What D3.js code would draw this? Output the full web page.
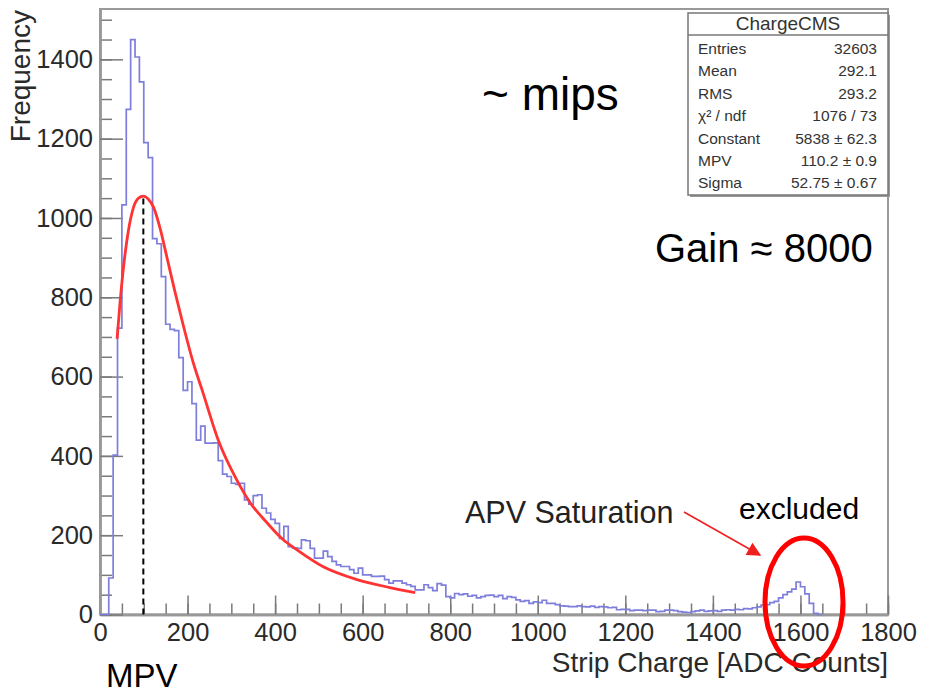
<!DOCTYPE html>
<html>
<head>
<meta charset="utf-8">
<script src="https://cdn.jsdelivr.net/npm/d3@7"></script>
<style>
  body { margin: 0; background: #fff; }
  text { font-family: 'Liberation Sans', Arial, Helvetica, sans-serif; }
</style>
</head>
<body>
<div id="container"></div>
<script>
// histogram: strip charge, 10 ADC counts per bin, starting at 0
var binWidth = 10
var counts = [
  0, 0, 92, 402, 722, 1033, 1274, 1450, 1406, 1343,
  1190, 1152, 948, 935, 852, 732, 719, 716, 648, 565,
  587, 532, 440, 475, 432, 432, 433, 388, 354, 348,
  331, 328, 331, 289, 278, 300, 302, 268, 256, 240,
  230, 192, 222, 171, 168, 167, 188, 186, 167, 142,
  142, 160, 146, 134, 125, 121, 121, 113, 104, 117,
  100, 100, 96, 96, 97, 88, 79, 85, 85, 79,
  75, 71, 62, 62, 75, 68, 60, 78, 74, 45,
  42, 53, 50, 52, 46, 48, 42, 45, 48, 49,
  45, 48, 40, 45, 43, 37, 33, 35, 28, 32,
  30, 36, 28, 28, 25, 22, 21, 20, 20, 22,
  20, 19, 21, 18, 20, 19, 17, 18, 12, 13,
  13, 10, 11, 11, 10, 11, 11, 7, 8, 11,
  11, 10, 7, 6, 5, 7, 9, 11, 8, 9,
  10, 8, 11, 12, 11, 13, 12, 15, 14, 17,
  19, 24, 25, 30, 33, 42, 50, 57, 64, 82,
  70, 52, 28, 3, 0
]

// landau fit curve [charge, frequency]
var fitPoints = [
  [39, 695], [46, 790], [53, 869], [65, 969], [76, 1025], [88, 1050],
  [99, 1055], [110, 1048], [122, 1028], [137, 975], [152, 905], [171, 815],
  [190, 730], [213, 635], [235, 560], [270, 440], [312, 340], [343, 282],
  [381, 232], [418, 189], [450, 163], [509, 121], [587, 88], [662, 68], [720, 55]
]

var mpvX = 99
var mpvY = 1055

var xTicks = [0, 200, 400, 600, 800, 1000, 1200, 1400, 1600, 1800]
var yTicks = [0, 200, 400, 600, 800, 1000, 1200, 1400]

var statTitle = 'ChargeCMS'
var statNames = ['Entries', 'Mean', 'RMS', 'χ² / ndf', 'Constant', 'MPV', 'Sigma']
var statValues = ['32603', '292.1', '293.2', '1076 / 73', '5838 ± 62.3', '110.2 ± 0.9', '52.75 ± 0.67']

var width = 934
var height = 697
var frame = { left: 100, right: 888, top: 9, bottom: 614.5 }

var svg = d3.select('#container').append('svg')
  .attr('width', width)
  .attr('height', height)

var x = d3.scaleLinear().domain([0, 1800]).range([frame.left, frame.right])
var y = d3.scaleLinear().domain([0, 1527]).range([frame.bottom, frame.top])

/* frame */
svg.append('rect')
  .attr('x', frame.left).attr('y', frame.top)
  .attr('width', frame.right - frame.left).attr('height', frame.bottom - frame.top)
  .style('fill', 'none').style('stroke', '#999').style('stroke-width', 2)

/* axes, ticks pointing into the frame */
function styleAxis (g) {
  g.selectAll('.domain').style('stroke', '#999').style('stroke-width', 2.5)
  g.selectAll('.tick line').style('stroke', '#7a7a7a').style('stroke-width', 1.5)
  g.selectAll('text').style('font-family', "'Liberation Sans', Arial, sans-serif")
    .style('font-size', '25.5px').style('fill', '#2a2a2a')
}

svg.append('g')
  .attr('transform', 'translate(0,' + frame.bottom + ')')
  .call(d3.axisBottom(x).tickValues(d3.range(0, 1801, 50)).tickSize(-11).tickSizeOuter(0).tickFormat(''))
  .call(styleAxis)

svg.append('g')
  .attr('transform', 'translate(0,' + frame.bottom + ')')
  .call(d3.axisBottom(x).tickValues(xTicks).tickSize(-19).tickSizeOuter(0).tickFormat(d3.format('d')))
  .call(styleAxis)
  .selectAll('text').attr('y', 8.5)

svg.append('g')
  .attr('transform', 'translate(' + frame.left + ',0)')
  .call(d3.axisLeft(y).tickValues(d3.range(0, 1501, 50)).tickSize(-12).tickSizeOuter(0).tickFormat(''))
  .call(styleAxis)

svg.append('g')
  .attr('transform', 'translate(' + frame.left + ',0)')
  .call(d3.axisLeft(y).tickValues(yTicks).tickSize(-23).tickSizeOuter(0).tickPadding(7).tickFormat(d3.format('d')))
  .call(styleAxis)

/* axis titles */
svg.append('text')
  .attr('x', 888).attr('y', 672)
  .attr('text-anchor', 'end')
  .style('font-size', '28px').style('fill', '#2a2a2a')
  .text('Strip Charge [ADC Counts]')

svg.append('text')
  .attr('transform', 'translate(30,10) rotate(-90)')
  .attr('text-anchor', 'end')
  .style('font-size', '28px').style('fill', '#2a2a2a')
  .text('Frequency')

/* histogram */
var histPts = counts.map(function (c, i) { return [i * binWidth, c] })
histPts.push([counts.length * binWidth, 0])

var histLine = d3.line()
  .x(function (d) { return x(d[0]) })
  .y(function (d) { return y(d[1]) })
  .curve(d3.curveStepAfter)

svg.append('path')
  .attr('d', histLine(histPts))
  .style('fill', 'none')
  .style('stroke', '#7e7edc')
  .style('stroke-width', 1.7)

/* fit */
var fitLine = d3.line()
  .x(function (d) { return x(d[0]) })
  .y(function (d) { return y(d[1]) })
  .curve(d3.curveMonotoneX)

svg.append('path')
  .attr('d', fitLine(fitPoints))
  .style('fill', 'none')
  .style('stroke', '#ff3333')
  .style('stroke-width', 2.8)

/* MPV marker */
svg.append('line')
  .attr('x1', x(mpvX)).attr('x2', x(mpvX))
  .attr('y1', y(0)).attr('y2', y(mpvY))
  .style('stroke', '#000').style('stroke-width', 2)
  .style('stroke-dasharray', '6,4')

/* stats box */
var box = svg.append('g')
box.append('rect')
  .attr('x', 690).attr('y', 15).attr('width', 200).attr('height', 182)
  .style('fill', '#999')
box.append('rect')
  .attr('x', 688).attr('y', 13).attr('width', 200).attr('height', 182)
  .style('fill', '#fff').style('stroke', '#777').style('stroke-width', 1.5)
box.append('line')
  .attr('x1', 688).attr('x2', 888).attr('y1', 35).attr('y2', 35)
  .style('stroke', '#777').style('stroke-width', 1.5)
box.append('text')
  .attr('x', 788).attr('y', 30).attr('text-anchor', 'middle')
  .style('font-size', '19px').style('fill', '#333')
  .text(statTitle)

statNames.forEach(function (name, i) {
  var yy = 54 + i * 22.4
  box.append('text')
    .attr('x', 698).attr('y', yy)
    .style('font-size', '15.5px').style('fill', '#333')
    .text(name)
  box.append('text')
    .attr('x', 877).attr('y', yy).attr('text-anchor', 'end')
    .style('font-size', '15.5px').style('fill', '#333')
    .text(statValues[i])
})

/* annotations */
svg.append('text')
  .attr('x', 482).attr('y', 110)
  .style('font-size', '46px').style('fill', '#000')
  .text('~ mips')

svg.append('text')
  .attr('x', 655).attr('y', 262)
  .style('font-size', '40px').style('fill', '#000')
  .text('Gain ≈ 8000')

svg.append('text')
  .attr('x', 465).attr('y', 523)
  .style('font-size', '30.5px').style('fill', '#222')
  .text('APV Saturation')

svg.append('text')
  .attr('x', 739).attr('y', 519)
  .style('font-size', '30px').style('fill', '#000')
  .text('excluded')

svg.append('text')
  .attr('x', 106).attr('y', 687)
  .style('font-size', '33px').style('fill', '#000')
  .text('MPV')

/* arrow towards the saturation peak */
svg.append('defs').append('marker')
  .attr('id', 'head')
  .attr('viewBox', '0 0 10 10')
  .attr('refX', 9).attr('refY', 5)
  .attr('markerWidth', 18).attr('markerHeight', 14)
  .attr('markerUnits', 'userSpaceOnUse')
  .attr('orient', 'auto')
  .append('path')
  .attr('d', 'M0,0L10,5L0,10Z')
  .style('fill', '#f02020')

svg.append('line')
  .attr('x1', 684).attr('y1', 512)
  .attr('x2', 760).attr('y2', 555)
  .style('stroke', '#f02020').style('stroke-width', 1.6)
  .attr('marker-end', 'url(#head)')

svg.append('ellipse')
  .attr('cx', 804).attr('cy', 602)
  .attr('rx', 39).attr('ry', 64)
  .style('fill', 'none')
  .style('stroke', '#f00')
  .style('stroke-width', 5)
</script>
</body>
</html>
